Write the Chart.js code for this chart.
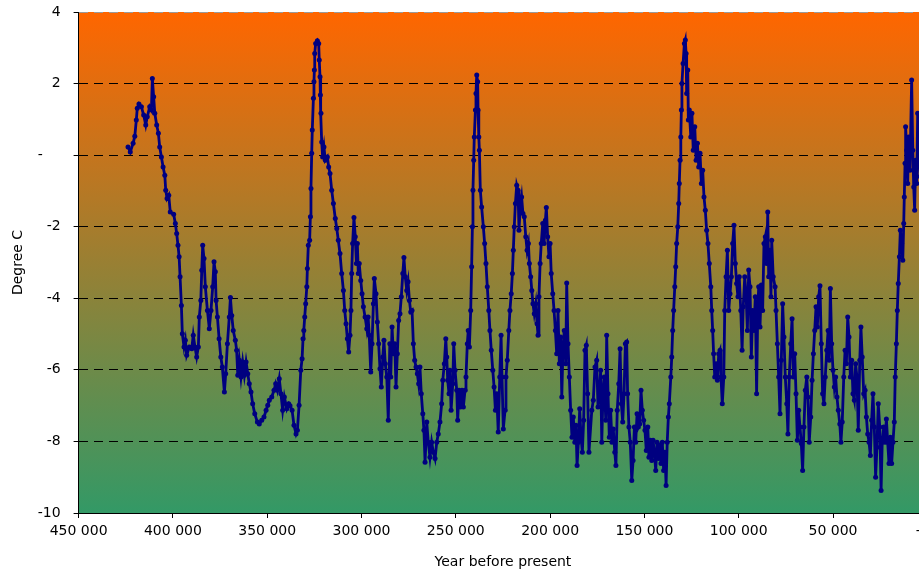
<!DOCTYPE html>
<html>
<head>
<meta charset="utf-8">
<script src="https://cdn.jsdelivr.net/npm/chart.js@4"></script>
<style>
  html, body { margin: 0; padding: 0; background: #fff; overflow: hidden; }
  #wrap { width: 950px; height: 574px; }
</style>
</head>
<body>
<div id="wrap"><canvas id="myChart" width="950" height="574"></canvas></div>
<script>
// anos antes do presente
const anos = [
  423800, 422600, 421100, 420200, 419400, 418900, 418000, 416700, 415500, 414400,
  413600, 412300, 411400, 410900, 410200, 409600, 408600, 407700, 407000, 406100,
  405200, 404300, 403800, 403100, 402200, 401400, 399600, 398700, 398000, 397300,
  396700, 396200, 395500, 395000, 394100, 393400, 392700, 391300, 390000, 389200,
  388300, 387400, 386500, 386000, 385200, 384700, 384200, 383500, 382800, 381700,
  380700, 379800, 378900, 378200, 377500, 377100, 376400, 375500, 374600, 373800,
  372700, 372000, 371100, 370100, 369500, 368800, 368000, 366900, 366200, 365600,
  364800, 363900, 363000, 362100, 361200, 360300, 359500, 358600, 357700, 356600,
  355200, 354200, 352900, 351700, 350600, 349700, 348900, 347600, 346400, 345500,
  344600, 343600, 342700, 341800, 340900, 339600, 338600, 337900, 336800, 335800,
  334700, 334000, 333100, 332200, 331500, 331000, 330600, 330100, 329600, 329000,
  328700, 328200, 327500, 327100, 326800, 326400, 326100, 325500, 325200, 325000,
  324800, 324300, 323400, 322700, 322400, 322000, 321800, 321500, 321100, 320600,
  319900, 319200, 318100, 317400, 316700, 315800, 314900, 313900, 313100, 312300,
  311400, 310500, 309600, 308900, 308200, 307500, 306800, 306100, 305600, 305200,
  304700, 304000, 303300, 302700, 302200, 301700, 301200, 300400, 299700, 299000,
  298100, 297200, 296500, 295900, 295100, 294400, 293700, 293200, 292300, 291600,
  290900, 290200, 289500, 288700, 288100, 287400, 286600, 285800, 285000, 284500,
  283800, 283100, 282400, 281700, 281000, 280300, 279600, 278900, 278100, 277500,
  276800, 276000, 275300, 274600, 273900, 273200, 272500, 271800, 271100, 270400,
  269700, 269000, 268300, 267500, 266900, 266300, 265400, 264600, 263700, 262800,
  261900, 261000, 260100, 259300, 258400, 257500, 256900, 256100, 255300, 254800,
  254300, 253600, 253100, 252500, 251600, 251100, 250400, 249500, 249000, 248300,
  247600, 246700, 246000, 245100, 244600, 243900, 243400, 242800, 242100, 241600,
  241200, 240900, 240500, 240200, 239600, 239300, 238900, 238400, 238200, 237800,
  237500, 237000, 236300, 235400, 234700, 234000, 233300, 232500, 231900, 231200,
  230400, 229700, 229000, 228300, 227500, 226700, 226000, 225500, 224800, 223900,
  223400, 222700, 221900, 221300, 220600, 220000, 219500, 219000, 218400, 217700,
  217000, 216500, 215800, 215100, 214400, 213700, 212900, 212200, 211500, 211000,
  210300, 209700, 209100, 208400, 207600, 206900, 206400, 205900, 205300, 204700,
  203900, 203200, 202500, 202000, 201300, 200600, 200000, 199400, 198600, 197900,
  197200, 196500, 195800, 195100, 194400, 193800, 193200, 192500, 191700, 191200,
  190500, 189800, 189100, 188400, 187700, 186900, 186300, 185700, 185000, 184300,
  183600, 182900, 182200, 181500, 180800, 180100, 179400, 177900, 177100, 176200,
  175300, 174600, 173900, 173200, 172600, 171900, 171300, 170500, 170000, 169300,
  168600, 167900, 167200, 166500, 165700, 165100, 164400, 163600, 162900, 162200,
  161500, 160800, 160100, 159400, 158900, 158200, 157500, 156700, 156000, 155300,
  154600, 153900, 153200, 152500, 151800, 151100, 150400, 149700, 149000, 148200,
  147600, 146900, 146100, 145400, 144700, 144000, 143300, 142600, 141900, 141200,
  140500, 139800, 139100, 138500, 137900, 137300, 136800, 136000, 135500, 135000,
  134500, 133900, 133400, 132900, 132300, 131800, 131500, 131100, 130700, 130400,
  130100, 129500, 128800, 128300, 127900, 127600, 127000, 126700, 126200, 125400,
  124800, 124100, 123300, 122600, 121900, 121200, 120500, 119800, 119100, 118400,
  117700, 117000, 116300, 115600, 114800, 114300, 113800, 113300, 112700, 112000,
  111300, 110600, 109900, 109400, 108700, 107900, 107400, 106700, 106000, 105300,
  104600, 103900, 103200, 102500, 101800, 101100, 100400, 99700, 98900, 98200,
  97600, 96800, 96100, 95400, 94700, 94000, 93300, 92600, 91900, 91200,
  90500, 89900, 89400, 88700, 88000, 87300, 86600, 85900, 85200, 84600,
  84100, 83400, 82900, 82500, 81700, 80700, 80200, 79500, 78800, 78100,
  77400, 76700, 76000, 75300, 74500, 73900, 73200, 72400, 71700, 71000,
  70300, 69600, 68900, 68200, 67500, 66800, 66100, 65400, 64700, 63900,
  63300, 62600, 61800, 61100, 60400, 59700, 59000, 58300, 57600, 56900,
  56200, 55500, 54800, 54100, 53300, 52600, 52000, 51400, 50700, 50000,
  49300, 48600, 47900, 47200, 46400, 45800, 45100, 44300, 43600, 42900,
  42200, 41500, 40800, 40100, 39400, 38700, 38000, 37300, 36600, 35800,
  35200, 34500, 33700, 33000, 32300, 31600, 30900, 30200, 29500, 28800,
  28100, 27400, 26700, 26000, 25200, 24500, 23900, 23100, 22400, 21700,
  21000, 20300, 19600, 18900, 18200, 17500, 17000, 16400, 15900, 15400,
  14800, 14300, 13600, 13000, 12500, 12200, 11800, 11500, 10900, 10400,
  9900, 9200, 8300, 7700, 7200, 6700, 6200, 5600, 5100, 4400,
  3800, 3200, 2400
];

// temperatura (graus C)
const temperaturas = [
  0.23, 0.09, 0.33, 0.53, 0.98, 1.31, 1.43, 1.35, 1.12, 0.84,
  1.07, 1.35, 1.26, 2.14, 1.63, 1.17, 0.84, 0.61, 0.23, -0.05,
  -0.33, -0.56, -0.98, -1.21, -1.12, -1.59, -1.65, -1.91, -2.19, -2.52,
  -2.84, -3.40, -4.20, -4.99, -5.36, -5.17, -5.59, -5.36, -5.41, -5.03,
  -5.36, -5.64, -5.36, -4.52, -4.06, -3.22, -2.52, -2.89, -3.68, -4.34,
  -4.85, -4.34, -3.68, -2.98, -3.26, -4.06, -4.52, -5.13, -5.64, -5.92,
  -6.62, -6.11, -5.27, -4.52, -3.98, -4.48, -4.90, -5.17, -5.45, -6.15,
  -5.73, -6.20, -5.78, -6.15, -5.78, -6.11, -6.39, -6.62, -6.95, -7.23,
  -7.46, -7.51, -7.41, -7.32, -7.13, -6.99, -6.85, -6.76, -6.57, -6.39,
  -6.57, -6.25, -6.67, -7.13, -6.76, -7.09, -6.95, -7.00, -7.13, -7.55,
  -7.79, -7.69, -6.99, -6.01, -5.69, -5.13, -4.90, -4.52, -4.15, -3.68,
  -3.17, -2.52, -2.38, -1.72, -0.93, 0.05, 0.70, 1.59, 2.05, 2.38,
  2.84, 3.12, 3.20, 3.12, 2.66, 2.19, 1.68, 1.17, 0.37, -0.05,
  0.23, -0.14, -0.05, -0.33, -0.51, -0.98, -1.35, -1.77, -2.05, -2.38,
  -2.75, -3.31, -3.78, -4.34, -4.71, -5.13, -5.50, -5.03, -4.34, -3.31,
  -2.47, -1.74, -2.28, -3.03, -2.47, -3.31, -3.03, -3.50, -3.87, -4.24,
  -4.52, -4.85, -4.52, -5.03, -6.06, -5.27, -4.15, -3.45, -3.87, -4.66,
  -5.27, -5.97, -6.48, -5.64, -5.17, -5.83, -6.20, -7.41, -5.27, -6.20,
  -4.80, -5.55, -5.27, -6.48, -5.55, -4.62, -4.43, -3.96, -3.31, -2.86,
  -3.40, -3.78, -3.54, -4.06, -4.38, -4.34, -5.27, -5.73, -5.92, -6.11,
  -6.39, -5.92, -6.67, -7.23, -7.69, -8.58, -7.46, -8.02, -8.44, -8.02,
  -8.30, -8.48, -8.02, -7.79, -7.46, -6.95, -6.29, -5.83, -5.13, -5.64,
  -6.29, -6.67, -6.01, -7.13, -6.39, -5.27, -6.01, -6.57, -7.41, -6.57,
  -7.04, -6.57, -7.04, -6.57, -6.20, -5.27, -4.90, -5.36, -4.34, -3.12,
  -2.00, -0.98, -0.14, 0.51, 1.26, 1.72, 2.24, 2.05, 1.26, 0.51,
  0.14, -0.98, -1.45, -2.00, -2.47, -3.03, -3.68, -4.34, -4.90, -5.45,
  -6.01, -6.48, -7.13, -6.67, -7.74, -6.20, -5.03, -6.20, -7.65, -7.13,
  -6.20, -5.73, -4.90, -4.34, -3.87, -3.31, -2.66, -2.00, -1.35, -0.84,
  -0.98, -2.10, -1.45, -1.17, -1.63, -1.72, -2.28, -2.66, -2.47, -3.03,
  -3.40, -3.78, -4.15, -4.43, -4.15, -4.71, -5.03, -3.96, -3.03, -2.47,
  -1.91, -2.47, -1.82, -1.46, -2.28, -2.84, -2.47, -3.31, -3.87, -4.34,
  -4.90, -5.55, -4.34, -5.83, -5.08, -6.76, -5.45, -4.90, -5.83, -3.57,
  -5.27, -6.20, -7.13, -7.88, -7.32, -8.02, -7.55, -8.67, -8.02, -7.09,
  -7.88, -8.30, -7.41, -5.45, -5.31, -6.67, -8.30, -7.13, -6.85, -5.92,
  -5.73, -7.04, -6.67, -6.01, -8.02, -6.57, -6.20, -7.41, -5.03, -6.67,
  -7.88, -7.13, -8.02, -7.65, -8.30, -8.67, -7.13, -6.39, -5.41, -6.95,
  -7.46, -6.67, -5.27, -5.22, -6.67, -7.60, -8.02, -9.09, -8.53, -7.60,
  -8.02, -7.23, -7.60, -7.51, -6.57, -7.13, -7.41, -7.69, -8.25, -7.60,
  -8.44, -7.97, -8.53, -7.97, -8.30, -8.81, -8.02, -8.48, -8.11, -8.62,
  -8.02, -8.81, -8.30, -9.23, -8.02, -7.32, -6.95, -6.20, -5.64, -4.90,
  -4.34, -3.68, -3.12, -2.47, -2.00, -1.35, -0.79, -0.14, 0.51, 1.26,
  2.00, 2.56, 3.12, 3.22, 2.84, 1.72, 2.38, 0.98, 1.26, 0.51,
  1.17, 0.14, 0.79, -0.14, 0.33, -0.33, 0.05, -0.79, -0.42, -1.17,
  -1.54, -2.10, -2.47, -3.03, -3.68, -4.34, -4.90, -5.55, -6.20, -5.83,
  -6.29, -5.55, -5.45, -6.20, -6.95, -6.20, -4.34, -3.40, -2.66, -4.34,
  -3.87, -3.40, -2.47, -1.96, -3.03, -3.59, -3.96, -3.40, -4.34, -5.45,
  -4.24, -3.40, -3.87, -4.90, -3.21, -3.68, -5.64, -4.34, -4.90, -3.96,
  -6.67, -4.34, -3.68, -4.80, -3.63, -4.34, -2.47, -2.28, -3.03, -1.59,
  -3.40, -2.66, -3.96, -2.38, -3.40, -3.68, -4.34, -5.27, -6.20, -7.23,
  -5.73, -4.15, -5.08, -6.20, -6.95, -7.79, -6.20, -5.27, -4.57, -6.20,
  -5.55, -6.67, -7.97, -7.13, -7.60, -8.06, -8.81, -7.60, -6.57, -6.20,
  -6.76, -8.02, -7.32, -6.29, -5.55, -4.90, -4.24, -4.80, -3.96, -3.65,
  -5.27, -6.67, -6.95, -6.20, -5.45, -4.90, -5.73, -3.73, -5.27, -6.01,
  -6.48, -6.20, -6.76, -7.13, -7.51, -8.02, -7.46, -6.20, -5.45, -5.83,
  -4.52, -5.08, -6.20, -5.73, -6.67, -6.85, -5.83, -6.20, -7.69, -5.73,
  -4.80, -5.64, -6.67, -6.57, -7.32, -7.79, -8.02, -8.39, -7.41, -6.67,
  -7.60, -9.00, -8.16, -6.95, -7.60, -9.37, -8.02, -7.60, -8.02, -7.37,
  -8.02, -8.62, -7.88, -8.62, -8.02, -7.46, -6.20, -5.27, -4.34, -3.59,
  -2.84, -2.10, -2.47, -2.94, -1.91, -1.17, -0.23, 0.79, 0.14, -0.79,
  0.51, -0.42, 2.10, 0.14, -0.89, -1.54, -0.14, -0.79, 1.17, 0.05,
  -0.60, 0.30, -0.40
];

// marcas dos eixos
const ticksX = [450000, 400000, 350000, 300000, 250000, 200000, 150000, 100000, 50000, 0];
const ticksY = [4, 2, 0, -2, -4, -6, -8, -10];

// formato tipo Excel: espaco de milhar e "-" para zero
function formatar(v) {
  if (v === 0) return '-    ';
  return String(v).replace(/\B(?=(\d{3})+(?!\d))/g, ' ');
}

const pontos = anos.map((ano, i) => ({ x: ano, y: temperaturas[i] }));

// fundo degrade laranja -> verde so na area do grafico
const fundo = {
  id: 'fundo',
  beforeDraw(chart) {
    const { ctx, chartArea: a } = chart;
    ctx.save();
    ctx.fillStyle = '#ffffff';
    ctx.fillRect(0, 0, chart.width, chart.height);
    const g = ctx.createLinearGradient(0, a.top, 0, a.bottom);
    g.addColorStop(0, '#ff6600');
    g.addColorStop(1, '#339966');
    ctx.fillStyle = g;
    ctx.fillRect(a.left, a.top, a.right - a.left, a.bottom - a.top);
    ctx.restore();
  }
};

const fonte = { family: "'DejaVu Sans', Verdana, sans-serif", size: 14 };

const data = {
  datasets: [{
    label: 'Temperatura',
    data: pontos,
    borderColor: '#000080',
    backgroundColor: '#000080',
    borderWidth: 2.8,
    pointRadius: 2.5,
    pointBorderWidth: 0,
    pointBackgroundColor: '#000080',
    tension: 0
  }]
};

const options = {
  responsive: false,
  animation: false,
  layout: { padding: { left: 0, right: 22.7, top: 12, bottom: 0 } },
  plugins: {
    legend: { display: false },
    tooltip: { enabled: false }
  },
  scales: {
    x: {
      type: 'linear',
      reverse: true,
      min: 0,
      max: 450000,
      afterFit: (s) => { s.height = 61; },
      afterBuildTicks: (s) => { s.ticks = ticksX.map(v => ({ value: v })); },
      ticks: {
        color: '#000',
        font: fonte,
        padding: 5,
        maxRotation: 0,
        autoSkip: false,
        callback: (v) => formatar(v)
      },
      grid: { drawOnChartArea: false, tickLength: 5, tickColor: '#000', color: '#000' },
      border: { color: '#000', width: 1 },
      title: {
        display: true,
        text: 'Year before present',
        color: '#000',
        font: fonte,
        padding: { top: 0, bottom: 3 }
      }
    },
    y: {
      min: -10,
      max: 4,
      afterFit: (s) => { s.width = 78.6; s.paddingTop = 0; s.paddingBottom = 0; },
      afterBuildTicks: (s) => { s.ticks = ticksY.map(v => ({ value: v })); },
      ticks: {
        color: '#000',
        font: fonte,
        padding: 13,
        callback: (v) => formatar(v)
      },
      grid: {
        color: (c) => c.tick && c.tick.value === 4 ? '#9a9a9a' : (c.tick && c.tick.value === -10 ? 'rgba(0,0,0,0)' : '#000'),
        tickColor: '#000',
        tickLength: 5,
        tickBorderDash: [],
        lineWidth: 1
      },
      border: { color: '#000', width: 1, dash: [9, 6] },
      title: {
        display: true,
        text: 'Degree C',
        color: '#000',
        font: fonte,
        padding: { top: 10, bottom: 0 }
      }
    }
  }
};

const config = {
  type: 'line',
  data: data,
  options: options,
  plugins: [fundo]
};

const myChart = new Chart(document.getElementById('myChart'), config);
</script>
</body>
</html>
